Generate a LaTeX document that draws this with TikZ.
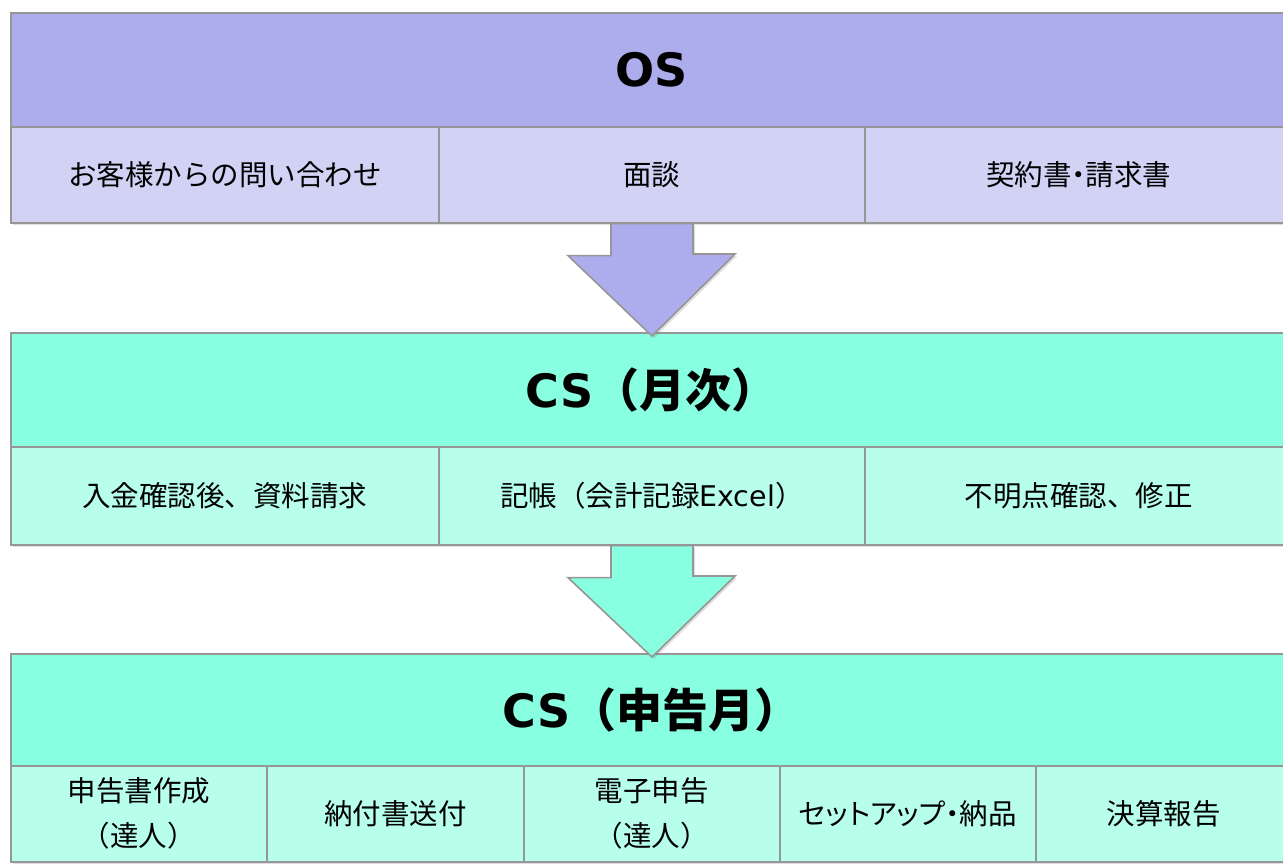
\documentclass[tikz,border=0pt]{standalone}
\usepackage{fontspec}
\setmainfont{Noto Sans CJK JP}
\newfontfamily\latin{DejaVu Sans}
\newfontfamily\cjkprop[RawFeature=+palt]{Noto Sans CJK JP}
\usetikzlibrary{shadows}
\definecolor{bordc}{RGB}{150,150,150}
\definecolor{lavH}{RGB}{173,173,237}
\definecolor{lavR}{RGB}{210,210,245}
\definecolor{mintH}{RGB}{136,255,224}
\definecolor{mintR}{RGB}{184,255,235}
\tikzset{
  box/.style={draw=bordc, line width=1.6pt, anchor=north west, inner sep=0pt,
    drop shadow={opacity=0.25, shadow xshift=2pt, shadow yshift=-2pt}},
  hdr/.style={box, minimum height=114pt, font=\fontsize{46}{54}\selectfont\bfseries},
  cell/.style={box, minimum height=96pt, align=center, font=\fontsize{28.5}{45}\selectfont},
  bigarrow/.style={draw=bordc, line width=1.6pt, line join=miter,
    drop shadow={opacity=0.25, shadow xshift=2pt, shadow yshift=-2pt}}
}
\begin{document}
\begin{tikzpicture}[x=1pt,y=-1pt]
\useasboundingbox (0,0) rectangle (1283,863);
\clip (0,0) rectangle (1283,863);
\fill[white] (0,0) rectangle (1283,863);
% block 1
\node[hdr, fill=lavH, minimum width=1281pt] (os) at (10,12) {\latin\bfseries OS};
\node[cell, fill=lavR, minimum width=428pt] (o1) at (10,126) {お客様からの問い合わせ};
\node[cell, fill=lavR, minimum width=426pt] (o2) at (438,126) {面談};
\node[cell, fill=lavR, minimum width=428pt] (o3) at (864,126) {契約書{\cjkprop ・}請求書};
% block 2
\node[hdr, fill=mintH, minimum width=1281pt] (cs1) at (10,332) {{\latin\bfseries CS}（月次）};
\node[cell, fill=mintR, minimum width=428pt, minimum height=98pt] (c1) at (10,446) {入金確認後、資料請求};
\node[cell, fill=mintR, minimum width=426pt, minimum height=98pt] (c2) at (438,446) {記帳（会計記録{\latin Excel}）};
\node[cell, fill=mintR, minimum width=428pt, minimum height=98pt] (c3) at (864,446) {不明点確認、修正};
% block 3
\node[hdr, fill=mintH, minimum width=1281pt, minimum height=112pt] (cs2) at (10,653) {{\latin\bfseries CS}（申告月）};
\node[cell, fill=mintR, minimum width=256pt] (d1) at (10,765) {申告書作成\\（達人）};
\node[cell, fill=mintR, minimum width=257pt] (d2) at (266,765) {納付書送付};
\node[cell, fill=mintR, minimum width=256pt] (d3) at (523,765) {電子申告\\（達人）};
\node[cell, fill=mintR, minimum width=256pt] (d4) at (779,765) {{\cjkprop セットアップ・}納品};
\node[cell, fill=mintR, minimum width=256pt] (d5) at (1035,765) {決算報告};
% arrows
\coordinate (a1) at (o2.south -| 652,0);
\draw[bigarrow, fill=lavH] ([xshift=-41pt]a1) -- ++(0,32) -- ++(-43,0) -- (652,336) -- (735,254) -- ++(-42,0) -- ([xshift=41pt]a1) -- cycle;
\coordinate (a2) at (c2.south -| 652,0);
\draw[bigarrow, fill=mintH] ([xshift=-41pt]a2) -- ++(0,32) -- ++(-43,0) -- (652,657) -- (735,576) -- ++(-42,0) -- ([xshift=41pt]a2) -- cycle;
\end{tikzpicture}
\end{document}
